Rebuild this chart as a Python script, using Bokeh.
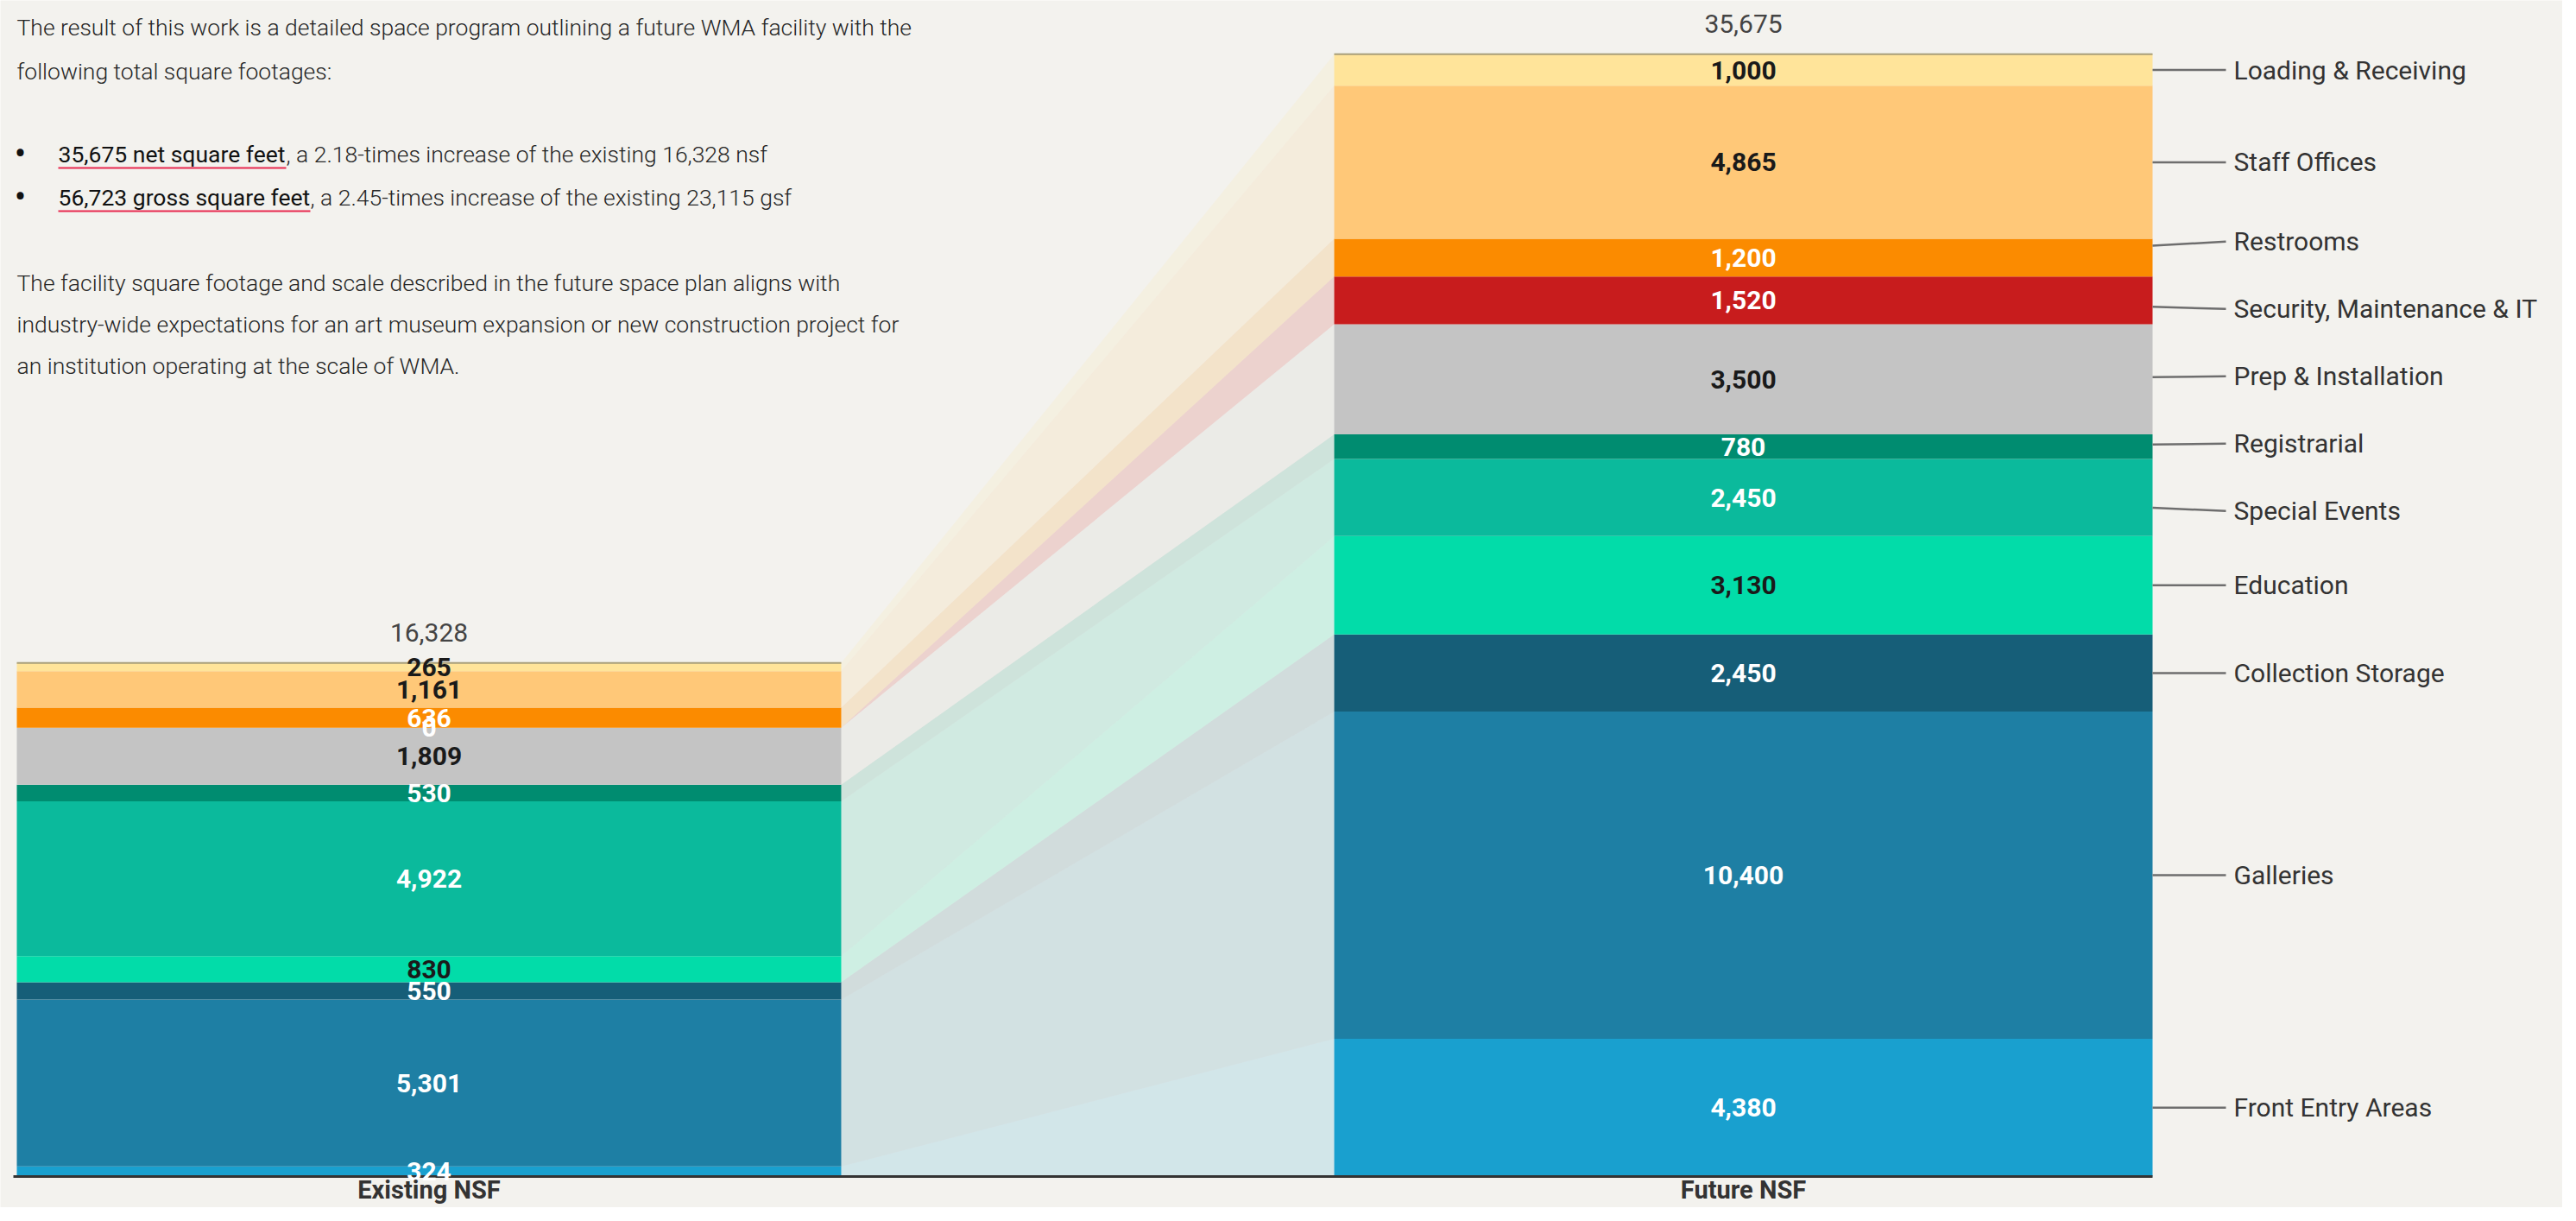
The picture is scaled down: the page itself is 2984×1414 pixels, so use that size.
from bokeh.plotting import figure
from bokeh.models import Range1d, ColumnDataSource
from bokeh.embed import file_html
from bokeh.resources import INLINE
from bokeh.core.properties import value
import numpy as np

# ---------------- data ----------------
categories = ["Front Entry Areas", "Galleries", "Collection Storage", "Education",
              "Special Events", "Registrarial", "Prep & Installation",
              "Security, Maintenance & IT", "Restrooms", "Staff Offices",
              "Loading & Receiving"]
existing_nsf = [324, 5301, 550, 830, 4922, 530, 1809, 0, 636, 1161, 265]
future_nsf = [4380, 10400, 2450, 3130, 2450, 780, 3500, 1520, 1200, 4865, 1000]
bar_names = ["Existing NSF", "Future NSF"]

intro_lines = ["The result of this work is a detailed space program outlining a future WMA facility with the",
               "following total square footages:"]
bullet_strong = ["35,675 net square feet", "56,723 gross square feet"]
bullet_rest = [", a 2.18-times increase of the existing 16,328 nsf",
               ", a 2.45-times increase of the existing 23,115 gsf"]
outro_lines = ["The facility square footage and scale described in the future space plan aligns with",
               "industry-wide expectations for an art museum expansion or new construction project for",
               "an institution operating at the scale of WMA."]

# ---------------- styles ----------------
colors = ["#19A0CF", "#1E7FA4", "#165E78", "#02DCA9", "#0BBA9C", "#008C70",
          "#C4C4C4", "#C81C1D", "#FB8B00", "#FFC878", "#FFE49A"]
dark_label = [False, False, False, True, False, False, True, False, False, True, True]
BG = "#F3F2EE"
FONT = value("Roboto")
LIGHT = value("Roboto Light")

W, H = 2968, 1398
BASE_PX = 1362.0
K = 27.45  # square feet per pixel
y_lo = (BASE_PX - H) * K
y_hi = BASE_PX * K

bar_edges = [(19, 974), (1545, 2493)]

p = figure(width=W, height=H, x_range=Range1d(0, W), y_range=Range1d(y_lo, y_hi),
           output_backend="svg", toolbar_location=None, min_border=0,
           x_axis_location=None, y_axis_location=None,
           background_fill_color=BG, border_fill_color=BG, outline_line_color=None)
p.grid.visible = False
p.extra_y_ranges = {"px": Range1d(H, 0)}

series = [existing_nsf, future_nsf]
bottoms = [np.concatenate([[0], np.cumsum(s)[:-1]]) for s in series]
tops = [np.cumsum(s) for s in series]

# ---------------- flow bands ----------------
xl = bar_edges[0][1]
xr = bar_edges[1][0]
band_xs, band_ys = [], []
for i in range(len(categories)):
    band_xs.append([xl, xl, xr, xr])
    band_ys.append([bottoms[0][i], tops[0][i], tops[1][i], bottoms[1][i]])
p.patches(xs=band_xs, ys=band_ys, fill_color=colors, fill_alpha=0.15, line_color=None)

# ---------------- bars ----------------
for b, (x0, x1) in enumerate(bar_edges):
    src = ColumnDataSource(dict(x=[(x0 + x1) / 2] * len(categories),
                                bottom=bottoms[b], top=tops[b], color=colors))
    p.vbar(x="x", width=x1 - x0, bottom="bottom", top="top", fill_color="color",
           line_color=None, source=src)
    total = tops[b][-1]
    p.segment(x0=[x0], x1=[x1], y0=[total], y1=[total], line_color="#A89F7A", line_width=2)

# baseline axis line
p.segment(x0=[15], x1=[bar_edges[1][1]], y0=[0], y1=[0], line_color="#333333", line_width=3)

# ---------------- value labels ----------------
for b, (x0, x1) in enumerate(bar_edges):
    cx = (x0 + x1) / 2
    mids = (bottoms[b] + tops[b]) / 2
    order = sorted(range(len(categories)), key=lambda i: series[b][i] != 0)
    src = ColumnDataSource(dict(
        x=[cx] * len(order), y=[mids[i] for i in order],
        text=[f"{series[b][i]:,}" for i in order],
        color=["#1A1A1A" if dark_label[i] else "#FFFFFF" for i in order]))
    p.text(x="x", y="y", text="text", text_color="color", text_font=FONT,
           text_font_size="30px", text_font_style="bold", text_align="center",
           text_baseline="middle", source=src)
    p.text(x=[cx], y=[tops[b][-1]], text=[f"{int(tops[b][-1]):,}"], y_offset=-35,
           text_color="#444444", text_font=FONT, text_font_size="30px",
           text_align="center", text_baseline="middle")
    p.text(x=[cx], y=[1377], text=[bar_names[b]], y_range_name="px",
           text_color="#333333", text_font=FONT, text_font_size="29px",
           text_font_style="bold", text_align="center", text_baseline="middle")

# ---------------- category labels with leaders ----------------
def spread(desired, gap):
    clusters = []
    for d in desired:
        clusters.append([d, [d]])
        while len(clusters) > 1:
            a, c = clusters[-2], clusters[-1]
            a_last = a[0] - (len(a[1]) - 1) * gap
            if a_last - c[0] < gap:
                merged = a[1] + c[1]
                start = float(np.mean([v + k * gap for k, v in enumerate(merged)]))
                clusters[-2:] = [[start, merged]]
            else:
                break
    out = []
    for start, members in clusters:
        out += [start - k * gap for k in range(len(members))]
    return out

mids_f = (bottoms[1] + tops[1]) / 2
top_first = list(range(len(categories)))[::-1]
desired = [mids_f[i] for i in top_first]
placed = spread(desired, 78 * K)
lab_y = dict(zip(top_first, placed))
lx0 = bar_edges[1][1]
lx1 = lx0 + 85
lead_y0 = [mids_f[i] + 0.75 * (lab_y[i] - mids_f[i]) for i in range(len(categories))]
p.segment(x0=[lx0] * len(categories), x1=[lx1] * len(categories),
          y0=lead_y0, y1=[lab_y[i] for i in range(len(categories))],
          line_color="#6E6E6E", line_width=2.5)
p.text(x=[lx1 + 9] * len(categories), y=[lab_y[i] for i in range(len(categories))],
       text=categories, text_color="#333333", text_font=FONT, text_font_size="30px",
       text_align="left", text_baseline="middle")

# ---------------- paragraph text ----------------
PS = "26.5px"
p.text(x=[19, 19], y=[31, 82], text=intro_lines, y_range_name="px", text_font=LIGHT,
       text_font_size=PS, text_color="#262626", text_baseline="middle")
p.text(x=[23, 23], y=[178, 228], text=["\u2022", "\u2022"], y_range_name="px", text_font=FONT,
       text_font_size="40px", text_color="#111111", text_baseline="middle", text_align="center")
p.text(x=[67, 67], y=[178, 228], text=bullet_strong, y_range_name="px", text_font=FONT,
       text_font_size=PS, text_color="#111111", text_baseline="middle")
p.text(x=[331, 359], y=[178, 228], text=bullet_rest, y_range_name="px", text_font=LIGHT,
       text_font_size=PS, text_color="#262626", text_baseline="middle")
p.segment(x0=[67, 67], x1=[331, 359], y0=[194, 244], y1=[194, 244], y_range_name="px",
          line_color="#E8294F", line_width=2)
p.text(x=[19, 19, 19], y=[327, 375, 423], text=outro_lines, y_range_name="px", text_font=LIGHT,
       text_font_size=PS, text_color="#262626", text_baseline="middle")

open("out.html", "w").write(file_html(p, INLINE))
